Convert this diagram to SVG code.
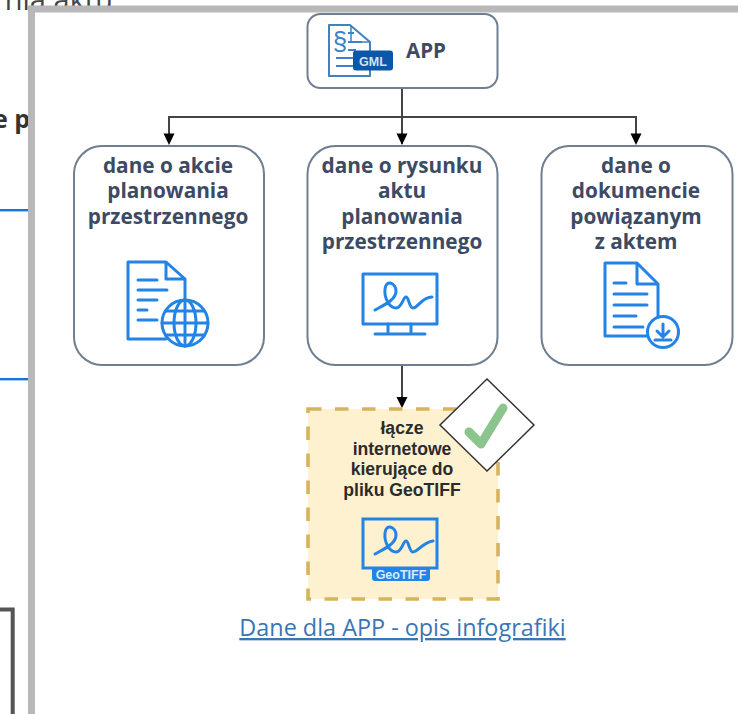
<svg xmlns="http://www.w3.org/2000/svg" width="738" height="714" viewBox="0 0 738 714">
<style>
.n{fill:#fff;stroke:#6f7f91;stroke-width:2}
.t{font-family:"Open Sans","DejaVu Sans",sans-serif;font-weight:700;font-size:20.800px;fill:#3d4a63;text-anchor:middle}
.a{font-family:"Liberation Sans",Arial,sans-serif;font-weight:700;font-size:17.600px;fill:#2b2b2b;text-anchor:middle}
.i{fill:none;stroke:#2384e6;stroke-width:3;stroke-linecap:round;stroke-linejoin:round}
.c{fill:none;stroke:#444;stroke-width:2}
.h{fill:#000}
</style>
<rect width="738" height="714" fill="#fff"/>
<g id="background">
<text x="113" y="10" font-family="Open Sans,sans-serif" font-size="29" fill="#444" text-anchor="end">nia aktu</text>
<text x="-7" y="128" font-family="Open Sans,sans-serif" font-size="25" font-weight="700" fill="#333">e p</text>
<rect x="0" y="209" width="30" height="2.400" fill="#1a73d8"/>
<rect x="0" y="378" width="30" height="2.400" fill="#1a73d8"/>
<path d="M0 609.500H12.700V714" fill="none" stroke="#555" stroke-width="4"/>
</g>
<g id="frame">
<path d="M28 714V5.500H738V12.500H35V714Z" fill="#b8b8b8"/>
</g>
<g id="connectors">
<path class="c" d="M402 88V144"/>
<path class="c" d="M169 136V117H636V136"/>
<path class="c" d="M402 365V402"/>
<path class="h" d="M163.500 133.500H174.500L169 145ZM396.500 133.500H407.500L402 145ZM630.500 133.500H641.500L636 145ZM396.500 397H407.500L402 408Z"/>
</g>
<g id="app">
<rect class="n" x="307.500" y="14" width="190" height="74" rx="13"/>
<path d="M329 25H350L370 42V76H329Z" fill="#fff" stroke="#3d82c4" stroke-width="2" stroke-linejoin="round"/>
<path d="M351 25V42H369" fill="none" stroke="#3d82c4" stroke-width="1.500"/>
<path d="M348 33H354M348 42H362M348 50H356M336 58H353M336 66H353" fill="none" stroke="#3d82c4" stroke-width="2.200"/>
<text x="340" y="50" font-family="Liberation Sans,sans-serif" font-size="26" fill="#3d82c4" text-anchor="middle">§</text>
<rect x="353" y="50.500" width="40" height="20" rx="3" fill="#0d57a8"/>
<text x="373" y="66" font-family="Liberation Sans,sans-serif" font-size="12.500" font-weight="700" fill="#cfe3f7" text-anchor="middle">GML</text>
<text x="426" y="58" font-family="Open Sans,sans-serif" font-weight="700" font-size="20.500" fill="#3d4a63" text-anchor="middle">APP</text>
</g>
<g id="akcja">
<rect class="n" x="74" y="146" width="190" height="219" rx="28"/>
<text class="t" x="168" y="173">dane o akcie</text>
<text class="t" x="168" y="198">planowania</text>
<text class="t" x="168" y="224">przestrzennego</text>
<path class="i" d="M166 339H128V262H166L185 279V300M166 262V279H185"/>
<path class="i" d="M138 280H157M138 290H167M138 300H157M138 310H147M138 320H157"/>
<circle class="i" cx="185" cy="323" r="23"/>
<ellipse class="i" cx="185" cy="323" rx="11" ry="23"/>
<path class="i" d="M185 300V346M162 323H208M166 311H204M166 335H204"/>
</g>
<g id="rysunek">
<rect class="n" x="307.500" y="146" width="190" height="219" rx="28"/>
<text class="t" x="402" y="173">dane o rysunku</text>
<text class="t" x="402" y="198">aktu</text>
<text class="t" x="402" y="224">planowania</text>
<text class="t" x="402" y="249">przestrzennego</text>
<rect class="i" x="363" y="274" width="74" height="50"/>
<path class="i" d="M375 310C384 305 396 300 396 291C396 283 386 279 385 289C384 299 390 308 396 308C402 308 403 297 406 297C409 297 409 308 413 308C418 308 422 297 432 297"/>
<path class="i" d="M388 324V334M411 324V334M375 334H425"/>
</g>
<g id="dokument">
<rect class="n" x="541.500" y="146" width="191" height="219" rx="28"/>
<text class="t" x="636" y="173">dane o</text>
<text class="t" x="636" y="198">dokumencie</text>
<text class="t" x="636" y="224">powiązanym</text>
<text class="t" x="636" y="249">z aktem</text>
<path class="i" d="M647 336H605V263H637L658 284V317M637 263V284H658"/>
<path class="i" d="M614 283H626M614 294H647M614 305H647M614 316H636M614 327H643"/>
<circle class="i" cx="663" cy="332" r="15.500"/>
<path class="i" d="M663 324V336M657 331L663 337L669 331M655 340H671"/>
</g>
<g id="lacze">
<rect x="308" y="409" width="190" height="190" fill="#fdf1d0" stroke="#d7b45c" stroke-width="3.600" stroke-dasharray="13.500 13.500"/>
<text class="a" x="402" y="434">łącze</text>
<text class="a" x="402" y="455">internetowe</text>
<text class="a" x="402" y="475">kierujące do</text>
<text class="a" x="402" y="496">pliku GeoTIFF</text>
<path d="M363 568V519H437V568Z" fill="none" stroke="#2384e6" stroke-width="3"/>
<path class="i" d="M375 554C384 549 396 544 396 535C396 527 386 523 385 533C384 543 390 552 396 552C402 552 403 541 406 541C409 541 409 552 413 552C418 552 423 542 433 541"/>
<rect x="372" y="567" width="58" height="14" rx="3" fill="#2384e6"/>
<text x="401" y="578.500" font-family="Liberation Sans,sans-serif" font-size="12.500" font-weight="700" fill="#d8eafb" text-anchor="middle">GeoTIFF</text>
</g>
<g id="znacznik">
<path d="M487 379L534 425L487 471L440 425Z" fill="#fff" stroke="#333" stroke-width="1.500"/>
<path d="M469 432L481 444L503 408" fill="none" stroke="#8cc48e" stroke-width="9" stroke-linecap="round" stroke-linejoin="round"/>
</g>
<g id="opis">
<text x="402.500" y="636" font-family="Open Sans,sans-serif" font-size="23.400px" fill="#3a76b5" text-anchor="middle" text-decoration="underline">Dane dla APP - opis infografiki</text>
</g>
</svg>
